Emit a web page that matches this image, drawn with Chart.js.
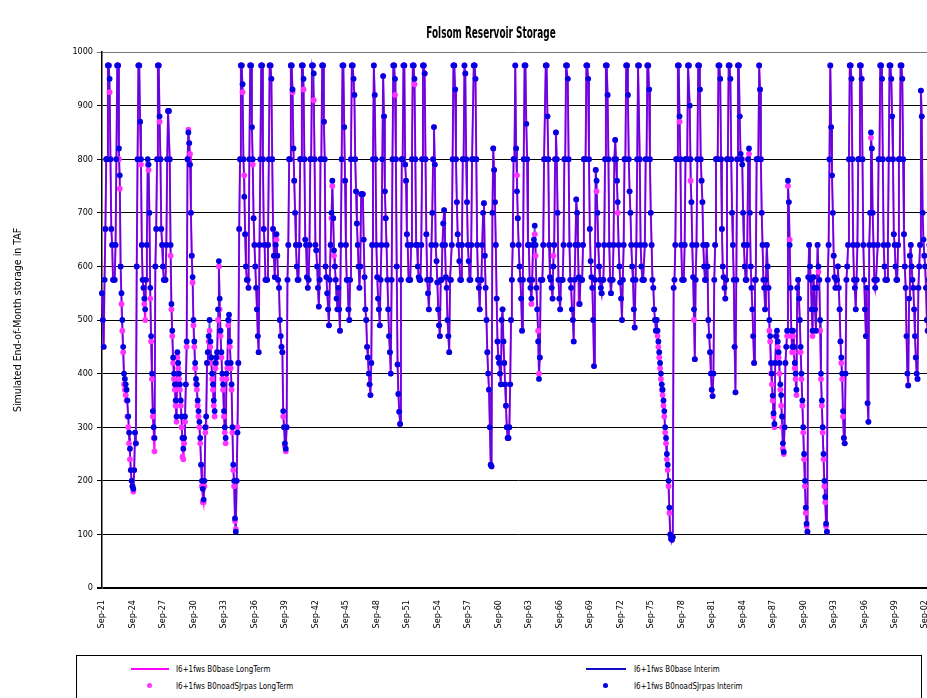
<!DOCTYPE html>
<html><head><meta charset="utf-8">
<script src="https://cdn.jsdelivr.net/npm/chart.js@4/dist/chart.umd.min.js"></script>
<style>
html,body{margin:0;padding:0;background:#fff;overflow:hidden;width:927px;height:698px;position:relative;}
#wrap{position:absolute;left:0;top:0;width:940px;height:640px;}
#title{position:absolute;left:391px;width:200px;top:24px;text-align:center;font:bold 15px "DejaVu Sans Condensed","Liberation Sans",sans-serif;color:#000;transform:scaleX(0.66);transform-origin:center;}
#legend{position:absolute;left:76px;top:655px;width:846px;height:50px;border:1px solid #000;box-sizing:border-box;}
.t{position:absolute;font:9px "DejaVu Sans Condensed","Liberation Sans",sans-serif;color:#000;white-space:nowrap;line-height:10px;transform:scaleX(0.88);transform-origin:left center;}
.ln{position:absolute;height:2px;}
.dt{position:absolute;width:5px;height:5px;border-radius:50%;}
</style></head>
<body>
<div id="wrap"><canvas id="c" width="940" height="640"></canvas></div>
<div id="title">Folsom Reservoir Storage</div>
<div id="legend">
  <div class="ln" style="left:54px;top:12px;width:38px;background:#ff00ff"></div>
  <div class="t" style="left:99px;top:8px">I6+1fws B0base LongTerm</div>
  <div class="ln" style="left:509px;top:12px;width:40px;background:#1010c0"></div>
  <div class="t" style="left:557px;top:8px">I6+1fws B0base Interim</div>
  <div class="dt" style="left:70px;top:27px;background:#ff33ff"></div>
  <div class="t" style="left:99px;top:25px">I6+1fws B0noadSJrpas LongTerm</div>
  <div class="dt" style="left:526px;top:27px;background:#0000e0"></div>
  <div class="t" style="left:557px;top:25px">I6+1fws B0noadSJrpas Interim</div>
</div>
<script>
// Monthly end-of-month storage (TAF), one row per year starting at September
const baseInterim = [
550,500,450,575,670,800,800,975,975,950,800,670,
640,575,575,575,640,800,975,975,820,770,600,550,
500,450,400,390,380,370,350,320,290,260,220,200,
190,185,220,290,270,600,800,975,975,870,800,640,
575,560,540,520,575,640,800,790,700,560,470,400,
330,300,280,600,670,800,975,975,880,800,670,640,
600,575,575,575,640,800,890,890,800,640,530,480,
430,400,380,350,320,440,420,400,380,350,320,280,
260,280,320,380,460,800,850,830,790,700,620,580,
500,460,420,390,380,350,330,310,280,230,200,185,
165,200,300,320,420,440,470,500,460,430,400,380,
350,330,420,430,440,520,610,540,480,440,400,380,
330,300,280,400,420,500,510,460,420,380,300,230,
200,130,105,200,290,420,670,800,975,975,940,800,
730,660,600,575,575,560,800,975,975,860,800,690,
640,600,560,520,470,440,640,800,975,975,800,670,
640,575,575,575,640,800,975,975,950,800,670,620,
580,640,660,620,575,560,500,470,450,440,330,300,
270,260,300,575,640,800,800,975,975,930,820,760,
700,640,600,575,575,640,800,800,975,975,950,800,
650,640,580,560,575,640,800,800,975,975,960,800,
640,630,600,560,525,575,800,800,975,975,870,800,
600,580,550,520,490,575,640,700,760,690,630,600,
575,540,520,560,520,480,640,800,975,975,860,760,
640,575,575,520,500,575,800,975,975,950,920,800,
740,680,640,600,560,600,735,735,735,650,580,520,
500,450,430,400,380,360,420,640,800,975,920,800,
640,580,540,520,490,575,640,800,955,880,740,690,
640,575,520,470,440,400,575,800,975,975,950,800,
600,417,362,329,306,575,800,800,975,975,790,760,
660,640,575,575,575,640,800,975,975,950,800,640,
640,600,580,575,575,640,800,975,975,960,800,660,
575,550,520,575,575,640,700,800,860,790,640,610,
570,520,490,470,575,575,640,680,705,640,580,560,
500,470,440,575,575,640,800,975,975,930,800,720,
660,640,610,575,575,640,800,800,975,960,800,720,
640,610,575,575,640,800,800,975,975,950,800,640,
575,560,520,575,575,640,700,718,620,560,500,440,
400,370,300,230,227,700,820,780,720,640,540,460,
430,420,400,380,500,520,460,420,380,340,300,280,
280,300,380,500,575,640,800,800,975,820,740,690,
640,600,575,540,480,575,800,975,975,866,800,640,
640,575,560,540,575,640,650,676,640,560,520,460,
390,430,575,575,575,640,800,800,975,975,880,800,
640,580,575,560,540,600,640,800,850,800,700,575,
540,520,575,575,575,640,800,800,975,975,950,800,
640,575,560,520,500,460,575,640,725,700,640,580,
530,575,575,575,640,800,800,800,975,975,950,800,
670,610,580,560,500,414,575,780,760,700,640,600,
575,560,550,575,575,640,800,975,975,920,800,640,
575,550,575,575,640,800,836,800,760,720,640,600,
570,540,500,575,640,800,800,975,975,920,800,740,
700,640,600,575,520,486,575,640,800,975,975,800,
640,600,575,575,575,640,800,800,975,975,930,800,
700,640,575,560,520,500,480,500,480,460,440,420,
400,380,370,350,330,300,280,250,230,200,150,100,
92,90,95,560,575,640,800,800,975,975,880,800,
640,575,575,575,640,800,800,800,975,975,900,800,
720,640,580,520,427,575,640,800,975,975,930,800,
760,720,640,600,575,575,640,600,500,470,440,400,
370,358,400,575,640,800,800,800,975,975,950,800,
670,600,580,560,540,575,800,800,975,975,950,800,
700,640,575,450,365,575,800,975,975,880,810,800,
790,700,640,600,575,575,640,800,820,700,600,560,
520,470,420,575,575,800,800,800,975,930,800,700,
640,575,560,520,575,640,600,560,500,470,420,400,
359,326,306,420,470,480,460,440,420,380,360,320,
270,254,300,420,450,480,760,720,640,560,480,450,
480,450,420,400,370,560,575,540,500,450,400,350,
300,250,200,150,120,105,580,640,600,575,520,480,
580,560,520,480,560,640,600,575,500,400,350,300,
250,200,170,120,105,575,640,800,975,860,770,700,
620,580,560,575,575,600,560,520,460,430,400,330,
280,270,400,575,600,640,800,975,975,950,800,640,
575,560,520,575,640,800,800,975,975,950,800,640,
575,520,470,560,345,310,640,700,850,820,700,640,
575,560,575,575,640,800,800,975,975,950,800,640,
600,575,575,575,640,800,975,975,950,880,800,660,
640,600,575,575,640,800,800,975,975,950,800,660,
600,560,470,400,378,540,620,640,600,575,560,520,
470,430,400,390,560,600,640,928,880,700,650,620,
600,560,500,480,575,640,620,600,580,560,520,500
];
const baseLongTerm = [
550,500,450,575,670,800,800,975,975,925,800,670,
640,575,575,575,640,800,975,975,800,750,600,530,
480,440,390,380,370,360,340,320,280,250,220,200,
190,180,220,290,270,600,800,975,975,870,790,640,
575,560,530,500,575,640,790,780,700,540,460,390,
320,290,250,600,670,800,975,975,870,800,670,640,
600,575,575,575,640,800,890,890,800,620,520,470,
420,390,370,340,310,430,410,390,370,340,310,270,
240,270,310,380,450,800,850,830,810,700,620,570,
490,450,410,380,370,340,320,300,270,230,190,170,
160,190,290,300,420,440,460,480,450,420,390,370,
340,320,410,420,440,500,600,520,470,430,390,370,
320,290,270,390,410,490,500,450,410,370,290,220,
190,125,110,200,300,420,670,800,975,975,925,800,
770,660,600,575,575,560,800,975,975,860,790,690,
640,600,560,520,470,440,640,800,975,975,800,670,
640,575,575,575,640,800,975,975,950,800,670,620,
580,640,650,620,575,560,500,470,450,440,320,300,
265,255,300,575,640,800,800,975,975,925,820,760,
700,640,600,575,575,640,800,800,975,975,930,800,
650,640,580,560,575,640,800,800,975,975,910,800,
640,630,600,560,525,575,800,800,975,975,870,800,
600,580,550,520,490,575,640,690,750,690,620,600,
575,540,520,560,520,480,640,800,975,975,860,760,
640,575,575,520,500,575,800,975,975,950,920,800,
740,680,640,600,560,600,735,735,735,650,580,520,
500,450,430,400,380,360,420,640,800,975,920,800,
640,580,540,520,490,575,640,800,955,880,740,690,
640,575,520,470,440,400,575,800,975,975,920,800,
600,417,362,329,306,575,800,800,975,975,790,760,
660,640,575,575,575,640,800,975,975,940,800,640,
640,600,580,575,575,640,800,975,975,960,800,660,
575,550,520,575,575,640,700,800,860,790,640,610,
570,520,490,470,575,575,640,680,705,640,580,560,
500,470,440,575,575,640,800,975,975,930,800,720,
660,640,610,575,575,640,800,800,975,960,800,720,
640,610,575,575,640,800,800,975,975,950,800,640,
575,560,520,575,575,640,700,718,620,560,500,440,
400,370,300,230,227,700,820,780,720,640,540,460,
430,420,400,380,500,520,460,420,380,340,300,280,
280,300,380,500,575,640,800,800,975,820,770,690,
640,600,575,540,480,575,800,975,975,866,800,640,
640,575,560,530,575,640,640,660,620,560,520,480,
400,430,575,575,575,640,800,800,975,975,880,800,
640,580,575,560,540,620,640,800,850,800,700,575,
540,520,575,575,575,640,800,800,975,975,950,800,
640,575,560,520,500,460,575,640,725,700,640,530,
530,575,575,575,640,800,800,800,975,975,950,800,
670,610,580,560,500,414,575,780,740,700,640,600,
575,560,550,575,575,640,800,975,975,920,800,640,
575,550,575,575,640,800,836,800,760,700,640,600,
570,540,500,575,640,800,800,975,975,920,800,740,
700,640,600,575,520,486,575,640,800,975,975,800,
640,600,575,575,575,640,800,800,975,975,930,800,
700,640,575,560,520,500,480,500,470,450,430,410,
390,370,360,340,320,290,270,240,220,190,140,100,
92,90,95,560,575,640,800,800,975,975,870,800,
640,575,575,575,640,800,800,800,975,975,900,760,
720,640,580,500,427,575,640,800,975,975,930,800,
760,720,640,600,575,575,640,600,500,470,440,400,
370,358,400,575,640,800,800,800,975,975,950,800,
670,600,580,560,540,575,800,800,975,975,950,800,
700,640,575,450,365,575,800,975,975,880,810,800,
800,700,640,600,575,575,640,800,810,700,600,560,
520,470,420,575,575,800,800,800,975,930,800,700,
640,575,560,520,575,640,600,560,480,460,400,380,
350,320,300,420,470,470,450,430,400,370,340,300,
260,250,300,420,450,470,750,720,650,560,470,440,
470,440,410,390,360,560,575,540,500,440,390,340,
290,240,190,140,115,105,580,640,600,575,520,470,
580,560,520,480,560,640,590,575,480,390,340,290,
240,190,160,115,105,575,640,800,975,860,770,700,
620,580,560,575,575,600,560,520,460,420,390,320,
280,270,400,575,600,640,800,975,975,950,800,640,
575,560,520,575,640,800,800,975,975,950,800,640,
575,520,470,560,345,310,640,700,840,820,700,640,
575,560,575,575,640,800,800,975,975,950,800,640,
600,575,575,575,640,800,975,975,950,880,800,660,
640,600,575,575,640,800,800,975,975,950,800,660,
600,560,470,400,378,540,620,640,600,575,560,520,
470,430,400,390,560,600,640,928,880,700,650,620,
600,560,500,480,575,640,620,600,580,560,520,500
];
const noadInterim = [
550,500,450,575,670,800,800,975,975,950,800,670,
640,575,575,575,640,800,975,975,820,770,600,550,
500,450,400,390,380,370,350,320,290,260,220,200,
190,185,220,290,270,600,800,975,975,870,800,640,
575,560,540,520,575,640,800,790,700,560,470,400,
330,300,280,600,670,800,975,975,880,800,670,640,
600,575,575,575,640,800,890,890,800,640,530,480,
430,400,380,350,320,440,420,400,380,350,320,280,
260,280,320,380,460,800,850,830,790,700,620,580,
500,460,420,390,380,350,330,310,280,230,200,185,
165,200,300,320,420,440,470,500,460,430,400,380,
350,330,420,430,440,520,610,540,480,440,400,380,
330,300,280,400,420,500,510,460,420,380,300,230,
200,130,105,200,290,420,670,800,975,975,940,800,
730,660,600,575,575,560,800,975,975,860,800,690,
640,600,560,520,470,440,640,800,975,975,800,670,
640,575,575,575,640,800,975,975,950,800,670,620,
580,640,660,620,575,560,500,470,450,440,330,300,
270,260,300,575,640,800,800,975,975,930,820,760,
700,640,600,575,575,640,800,800,975,975,950,800,
650,640,580,560,575,640,800,800,975,975,960,800,
640,630,600,560,525,575,800,800,975,975,870,800,
600,580,550,520,490,575,640,700,760,690,630,600,
575,540,520,560,520,480,640,800,975,975,860,760,
640,575,575,520,500,575,800,975,975,950,920,800,
740,680,640,600,560,600,735,735,735,650,580,520,
500,450,430,400,380,360,420,640,800,975,920,800,
640,580,540,520,490,575,640,800,955,880,740,690,
640,575,520,470,440,400,575,800,975,975,950,800,
600,417,362,329,306,575,800,800,975,975,790,760,
660,640,575,575,575,640,800,975,975,950,800,640,
640,600,580,575,575,640,800,975,975,960,800,660,
575,550,520,575,575,640,700,800,860,790,640,610,
570,520,490,470,575,575,640,680,705,640,580,560,
500,470,440,575,575,640,800,975,975,930,800,720,
660,640,610,575,575,640,800,800,975,960,800,720,
640,610,575,575,640,800,800,975,975,950,800,640,
575,560,520,575,575,640,700,718,620,560,500,440,
400,370,300,230,227,700,820,780,720,640,540,460,
430,420,400,380,500,520,460,420,380,340,300,280,
280,300,380,500,575,640,800,800,975,820,740,690,
640,600,575,540,480,575,800,975,975,866,800,640,
640,575,560,540,575,640,650,676,640,560,520,460,
390,430,575,575,575,640,800,800,975,975,880,800,
640,580,575,560,540,600,640,800,850,800,700,575,
540,520,575,575,575,640,800,800,975,975,950,800,
640,575,560,520,500,460,575,640,725,700,640,580,
530,575,575,575,640,800,800,800,975,975,950,800,
670,610,580,560,500,414,575,780,760,700,640,600,
575,560,550,575,575,640,800,975,975,920,800,640,
575,550,575,575,640,800,836,800,760,720,640,600,
570,540,500,575,640,800,800,975,975,920,800,740,
700,640,600,575,520,486,575,640,800,975,975,800,
640,600,575,575,575,640,800,800,975,975,930,800,
700,640,575,560,520,500,480,500,480,460,440,420,
400,380,370,350,330,300,280,250,230,200,150,100,
92,90,95,560,575,640,800,800,975,975,880,800,
640,575,575,575,640,800,800,800,975,975,900,800,
720,640,580,520,427,575,640,800,975,975,930,800,
760,720,640,600,575,575,640,600,500,470,440,400,
370,358,400,575,640,800,800,800,975,975,950,800,
670,600,580,560,540,575,800,800,975,975,950,800,
700,640,575,450,365,575,800,975,975,880,810,800,
790,700,640,600,575,575,640,800,820,700,600,560,
520,470,420,575,575,800,800,800,975,930,800,700,
640,575,560,520,575,640,600,560,500,470,420,400,
359,326,306,420,470,480,460,440,420,380,360,320,
270,254,300,420,450,480,760,720,640,560,480,450,
480,450,420,400,370,560,575,540,500,450,400,350,
300,250,200,150,120,105,580,640,600,575,520,480,
580,560,520,480,560,640,600,575,500,400,350,300,
250,200,170,120,105,575,640,800,975,860,770,700,
620,580,560,575,575,600,560,520,460,430,400,330,
280,270,400,575,600,640,800,975,975,950,800,640,
575,560,520,575,640,800,800,975,975,950,800,640,
575,520,470,560,345,310,640,700,850,820,700,640,
575,560,575,575,640,800,800,975,975,950,800,640,
600,575,575,575,640,800,975,975,950,880,800,660,
640,600,575,575,640,800,800,975,975,950,800,660,
600,560,470,400,378,540,620,640,600,575,560,520,
470,430,400,390,560,600,640,928,880,700,650,620,
600,560,500,480,575,640,620,600,580,560,520,500
];
const noadLongTerm = [
550,500,450,575,670,800,800,975,975,925,800,670,
640,575,575,575,640,800,975,975,800,745,600,530,
480,440,380,370,360,350,320,300,270,240,220,200,
190,180,220,290,270,600,800,975,975,870,790,640,
575,560,530,500,575,640,790,780,700,540,460,390,
320,280,255,600,670,800,975,975,870,800,670,640,
600,575,575,575,640,800,890,890,800,620,520,470,
420,390,370,340,310,430,410,390,370,340,300,245,
240,270,310,380,450,800,855,830,810,700,620,570,
490,450,410,380,370,340,320,300,270,230,190,160,
160,190,290,300,420,440,460,480,450,420,390,370,
340,320,410,420,440,500,600,520,470,430,390,370,
320,290,270,390,410,490,500,450,410,370,290,220,
190,125,110,200,300,420,670,800,975,975,925,800,
770,660,600,575,575,560,800,975,975,860,790,690,
640,600,560,520,470,440,640,800,975,975,800,670,
640,575,575,575,640,800,975,975,950,800,670,620,
580,640,650,620,575,560,500,470,450,440,320,300,
265,255,300,575,640,800,800,975,975,925,820,760,
700,640,600,575,575,640,800,800,975,975,930,800,
650,640,580,560,575,640,800,800,975,975,910,800,
640,630,600,560,525,575,800,800,975,975,870,800,
600,580,550,520,490,575,640,690,750,690,620,600,
575,540,520,560,520,480,640,800,975,975,860,760,
640,575,575,520,500,575,800,975,975,950,920,800,
740,680,640,600,560,600,735,735,735,650,580,520,
500,450,430,400,380,360,420,640,800,975,920,800,
640,580,540,520,490,575,640,800,955,880,740,690,
640,575,520,470,440,400,575,800,975,975,920,800,
600,417,362,329,306,575,800,800,975,975,790,760,
660,640,575,575,575,640,800,975,975,940,800,640,
640,600,580,575,575,640,800,975,975,960,800,660,
575,550,520,575,575,640,700,800,860,790,640,610,
570,520,490,470,575,575,640,680,705,640,580,560,
500,470,440,575,575,640,800,975,975,930,800,720,
660,640,610,575,575,640,800,800,975,960,800,720,
640,610,575,575,640,800,800,975,975,950,800,640,
575,560,520,575,575,640,700,718,620,560,500,440,
400,370,300,230,227,700,820,780,720,640,540,460,
430,420,400,380,500,520,460,420,380,340,300,280,
280,300,380,500,575,640,800,800,975,820,770,690,
640,600,575,540,480,575,800,975,975,866,800,640,
640,575,560,530,575,640,640,660,620,560,520,480,
400,430,575,575,575,640,800,800,975,975,880,800,
640,580,575,560,540,620,640,800,850,800,700,575,
540,520,575,575,575,640,800,800,975,975,950,800,
640,575,560,520,500,460,575,640,725,700,640,530,
530,575,575,575,640,800,800,800,975,975,950,800,
670,610,580,560,500,414,575,780,740,700,640,600,
575,560,550,575,575,640,800,975,975,920,800,640,
575,550,575,575,640,800,836,800,760,700,640,600,
570,540,500,575,640,800,800,975,975,920,800,740,
700,640,600,575,520,486,575,640,800,975,975,800,
640,600,575,575,575,640,800,800,975,975,930,800,
700,640,575,560,520,500,480,500,470,450,430,410,
390,370,360,340,320,290,270,240,220,190,140,100,
92,90,95,560,575,640,800,800,975,975,870,800,
640,575,575,575,640,800,800,800,975,975,900,760,
720,640,580,500,427,575,640,800,975,975,930,800,
760,720,640,600,575,575,640,600,500,470,440,400,
370,358,400,575,640,800,800,800,975,975,950,800,
670,600,580,560,540,575,800,800,975,975,950,800,
700,640,575,450,365,575,800,975,975,880,810,800,
800,700,640,600,575,575,640,800,810,700,600,560,
520,470,420,575,575,800,800,800,975,930,800,700,
640,575,560,520,575,640,600,560,480,460,400,380,
350,320,300,420,470,470,450,430,400,370,340,300,
260,250,300,420,450,470,750,720,650,560,470,440,
470,440,410,390,360,560,575,540,500,440,390,340,
290,240,190,140,115,105,580,640,600,575,520,470,
580,560,520,480,560,640,590,575,480,390,340,290,
240,190,160,115,105,575,640,800,975,860,770,700,
620,580,560,575,575,600,560,520,460,420,390,320,
280,270,400,575,600,640,800,975,975,950,800,640,
575,560,520,575,640,800,800,975,975,950,800,640,
575,520,470,560,345,310,640,700,840,820,700,640,
575,560,575,575,640,800,800,975,975,950,800,640,
600,575,575,575,640,800,975,975,950,880,800,660,
640,600,575,575,640,800,800,975,975,950,800,660,
600,560,470,400,378,540,620,640,600,575,560,520,
470,430,400,390,560,600,640,928,880,700,650,620,
600,560,500,480,575,640,620,600,580,560,520,500
];
const MONTHS = ['Jan','Feb','Mar','Apr','May','Jun','Jul','Aug','Sep','Oct','Nov','Dec'];
const categories = [];
for (let i = 0; i < baseInterim.length; i++) {
  const k = 8 + i;
  categories.push(MONTHS[k % 12] + '-' + String((1921 + Math.floor(k / 12)) % 100).padStart(2, '0'));
}
const yTicks = [0,100,200,300,400,500,600,700,800,900,1000];
const FONT = '"DejaVu Sans Condensed","Liberation Sans",sans-serif';

new Chart(document.getElementById('c'), {
  type: 'line',
  data: {
    labels: categories,
    datasets: [
      {label:'I6+1fws B0base LongTerm', data: baseLongTerm, borderColor:'#ff00ff', borderWidth:2, pointRadius:0, tension:0, order:4},
      {label:'I6+1fws B0base Interim', data: baseInterim, borderColor:'rgba(24,16,200,0.72)', borderWidth:1.6, pointRadius:0, tension:0, order:3},
      {label:'I6+1fws B0noadSJrpas LongTerm', data: noadLongTerm, showLine:false, pointRadius:2.9, pointBackgroundColor:'#ff33ff', pointBorderWidth:0, order:2},
      {label:'I6+1fws B0noadSJrpas Interim', data: noadInterim, showLine:false, pointRadius:2.9, pointBackgroundColor:'#0000e0', pointBorderWidth:0, order:1}
    ]
  },
  options: {
    responsive:false, animation:false,
    layout:{padding:{top:52,left:10,right:0,bottom:0}},
    plugins:{legend:{display:false}, tooltip:{enabled:false}, title:{display:false}},
    scales:{
      x:{
        type:'category',
        ticks:{autoSkip:false, maxRotation:90, minRotation:90, color:'#000', padding:4, font:{family:FONT, size:9}},
        grid:{display:false},
        border:{display:false},
        afterBuildTicks: ax => { ax.ticks = ax.ticks.filter(t => t.value % 36 === 0); },
        afterFit: s => { s.height = 52; }
      },
      y:{
        min:0, max:1000,
        afterBuildTicks: ax => { ax.ticks = yTicks.map(v => ({value:v})); },
        ticks:{color:'#000', padding:4, font:{family:FONT, size:9}, callback: v => String(v)},
        grid:{color: c => (c.tick && c.tick.value === 1000) ? '#777' : '#000', lineWidth: c => (c.tick && c.tick.value === 0) ? 2 : 1, tickLength:5},
        border:{display:true, color:'#000', width:1.5},
        title:{display:true, text:'Simulated End-of-Month storage in TAF', color:'#000', font:{family:FONT, size:10.5}, padding:{top:2,bottom:0}},
        afterFit: s => { s.width = 92; }
      }
    }
  }
});
</script>
</body></html>
